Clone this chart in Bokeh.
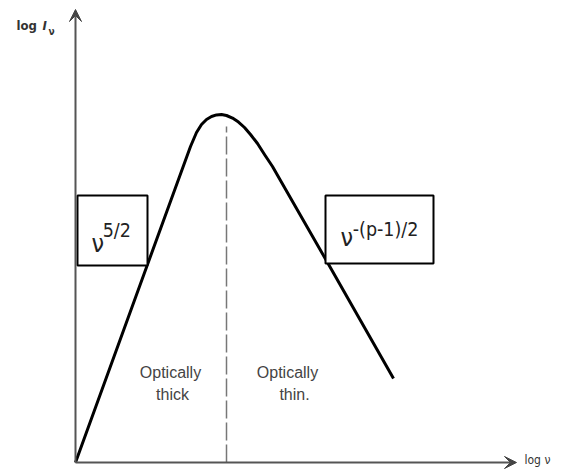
from bokeh.plotting import figure
from bokeh.models import Range1d, Arrow, VeeHead
from bokeh.core.properties import value
from bokeh.embed import file_html
from bokeh.resources import INLINE

# Schematic synchrotron spectrum with self-absorption turnover (arbitrary log units)
log_nu = [0.0, 1.8, 2.875, 3.025, 3.15, 3.275, 3.4, 3.525, 3.65, 3.775, 3.925,
          4.075, 4.225, 4.375, 4.55, 4.725, 4.925, 5.125, 6.3, 7.95]
log_I = [0.0, 4.95, 7.9, 8.25, 8.45, 8.575, 8.65, 8.69, 8.7, 8.675, 8.61,
         8.51, 8.375, 8.2, 7.975, 7.7, 7.4, 7.05, 5.0, 2.1]

# Turnover frequency separating the two regimes
log_nu_turnover = 3.775
log_I_turnover = 8.4

# Slope labels: boxes (left, right, bottom, top) and exponents
box_left = [0.05, 6.25]
box_right = [1.8, 8.95]
box_bottom = [4.925, 4.975]
box_top = [6.675, 6.675]
exponents = ["5/2", "-(p-1)/2"]
regimes = [("Optically", "thick"), ("Optically", "thin.")]

NARROW = "'DejaVu Sans Condensed', 'Liberation Sans', sans-serif"

p = figure(width=561, height=469, output_backend="svg", toolbar_location=None,
           x_range=Range1d(-1.875, 12.15), y_range=Range1d(-0.175, 11.55),
           min_border=0, min_border_left=0, min_border_right=0,
           min_border_top=0, min_border_bottom=0)
p.axis.visible = False
p.grid.visible = False
p.outline_line_color = None
p.background_fill_color = "white"

# Axes drawn as arrows from the origin
p.add_layout(Arrow(end=VeeHead(size=12, fill_color="#444", line_color="#444"),
                   x_start=0, y_start=0, x_end=0, y_end=11.325,
                   line_color="#555", line_width=2))
p.add_layout(Arrow(end=VeeHead(size=12, fill_color="#444", line_color="#444"),
                   x_start=0, y_start=0, x_end=11.025, y_end=0,
                   line_color="#555", line_width=2))

# Dashed marker at the turnover
p.segment(x0=[log_nu_turnover], y0=[0], x1=[log_nu_turnover], y1=[log_I_turnover],
          line_color="#777", line_width=1.5, line_dash="18 4")

# Spectrum
p.line(log_nu, log_I, line_color="black", line_width=3, line_join="round")

# Boxes for the power-law slopes
p.quad(left=box_left, right=box_right, bottom=box_bottom, top=box_top,
       fill_color="white", line_color="black", line_width=2)

# ν symbols and exponents inside the boxes
p.text(x=[0.4, 6.625], y=[5.475, 5.625], text=["ν", "ν"],
       text_font=value(NARROW), text_font_size="25px", text_color="#222",
       text_baseline="alphabetic", text_align="left")
p.text(x=[0.68, 6.93], y=[5.8, 5.825], text=exponents,
       text_font=value(NARROW), text_font_size="19.5px", text_color="#222",
       text_baseline="alphabetic", text_align="left")

# Regime labels on either side of the turnover
p.text(x=[2.375, 5.3], y=[2.25, 2.25], text=[r[0] for r in regimes],
       text_font=value("Liberation Sans"), text_font_size="16px", text_color="#444",
       text_baseline="alphabetic", text_align="center")
p.text(x=[2.425, 5.475], y=[1.7, 1.7], text=[r[1] for r in regimes],
       text_font=value("Liberation Sans"), text_font_size="16px", text_color="#444",
       text_baseline="alphabetic", text_align="center")

# Axis titles
p.text(x=[-1.475], y=[10.925], text=["log"], text_font=value(NARROW),
       text_font_size="13px", text_font_style="bold", text_color="#333",
       text_baseline="alphabetic")
p.text(x=[-0.825], y=[10.925], text=["I"], text_font=value(NARROW),
       text_font_size="13px", text_font_style="bold italic", text_color="#333",
       text_baseline="alphabetic")
p.text(x=[-0.675], y=[10.775], text=["ν"], text_font=value(NARROW),
       text_font_size="10px", text_font_style="bold", text_color="#333",
       text_baseline="alphabetic")
p.text(x=[11.225], y=[0.075], text=["log ν"], text_font=value(NARROW),
       text_font_size="12px", text_color="#333", text_baseline="alphabetic")

open("out.html", "w").write(file_html(p, INLINE))
